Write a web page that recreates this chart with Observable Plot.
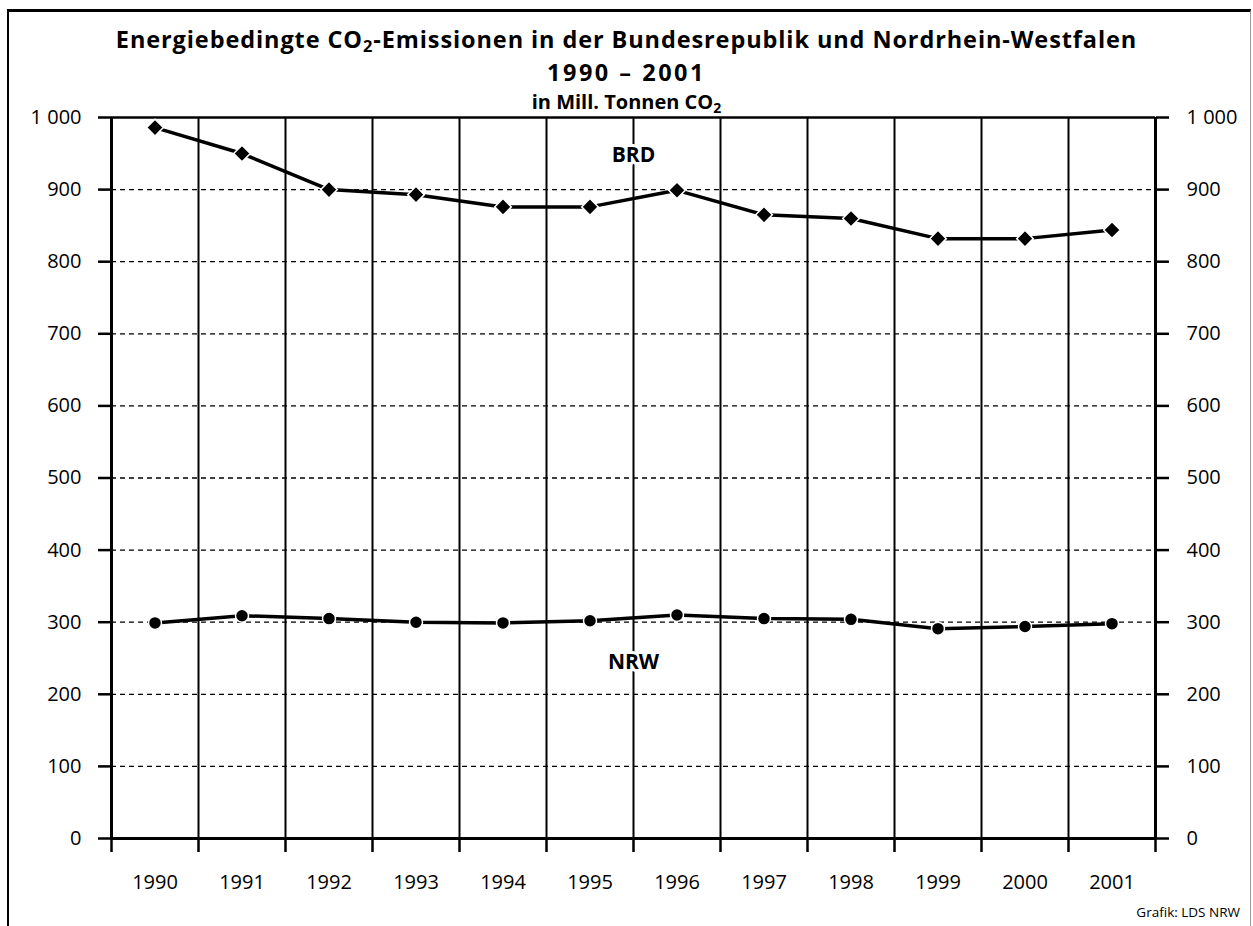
<!DOCTYPE html>
<html>
<head>
<meta charset="utf-8">
<script src="https://cdn.jsdelivr.net/npm/d3@7"></script>
<script src="https://cdn.jsdelivr.net/npm/@observablehq/plot@0.6"></script>
<style>
  html, body { margin: 0; padding: 0; background: #fff; }
  #wrap { position: relative; width: 1253px; height: 926px; overflow: hidden; font-family: "Open Sans", sans-serif; color: #000; }
  #frame { position: absolute; left: 7px; top: 9px; width: 1244px; height: 930px; border-left: 2px solid #000; border-top: 3px solid #000; border-right: 1px solid #999; box-sizing: border-box; }
  .t { position: absolute; left: 0; width: 1253px; text-align: center; font-weight: 700; white-space: nowrap; }
  #title1 { top: 24px; font-size: 23.5px; line-height: 31px; letter-spacing: 0.9px; }
  #title2 { top: 57px; font-size: 23.5px; line-height: 31px; letter-spacing: 2.5px; }
  #sub { top: 88px; font-size: 20px; line-height: 28px; }
  #cap { position: absolute; right: 13px; top: 903px; font-size: 13.5px; line-height: 18px; }
  #chart { position: absolute; left: 0; top: 105px; }
  sub { font-size: 0.7em; vertical-align: -0.25em; line-height: 0; }
</style>
</head>
<body>
<div id="wrap">
  <div id="frame"></div>
  <div class="t" id="title1">Energiebedingte CO<sub>2</sub>-Emissionen in der Bundesrepublik und Nordrhein-Westfalen</div>
  <div class="t" id="title2">1990 – 2001</div>
  <div class="t" id="sub">in Mill. Tonnen CO<sub>2</sub></div>
  <div id="cap">Grafik: LDS NRW</div>
  <div id="chart"></div>
</div>
<script>
const years = [1990, 1991, 1992, 1993, 1994, 1995, 1996, 1997, 1998, 1999, 2000, 2001];
const brdValues = [986, 950, 900, 893, 876, 876, 899, 865, 860, 832, 832, 844];
const nrwValues = [299, 309, 305, 300, 299, 302, 310, 305, 304, 291, 294, 298];
const yTicks = [0, 100, 200, 300, 400, 500, 600, 700, 800, 900, 1000];
const gridValues = [100, 200, 300, 400, 500, 600, 700, 800, 900];
const seriesLabels = [
  {name: "BRD", year: 1995.5, value: 947},
  {name: "NRW", year: 1995.5, value: 244}
];

const brd = years.map((year, i) => ({year, value: brdValues[i]}));
const nrw = years.map((year, i) => ({year, value: nrwValues[i]}));
const bounds = d3.range(years[0] - 0.5, years[years.length - 1] + 1, 1);
const innerBounds = bounds.slice(1, -1);
const outerBounds = [bounds[0], bounds[bounds.length - 1]];
const fmt = d => d >= 1000 ? d3.format(",")(d).replace(",", " ") : String(d);

const chart = Plot.plot({
  width: 1253,
  height: 800,
  marginTop: 12,
  marginBottom: 67,
  marginLeft: 111,
  marginRight: 98,
  style: {fontFamily: "'Open Sans', sans-serif", fontSize: "20px", color: "#000", background: "transparent", overflow: "visible"},
  x: {type: "linear", domain: [bounds[0], bounds[bounds.length - 1]], label: null},
  y: {domain: [0, 1000], label: null},
  marks: [
    Plot.ruleY(gridValues, {stroke: "#000", strokeWidth: 1.3, strokeDasharray: "5,4"}),
    Plot.ruleX(innerBounds, {y1: 0, y2: 1000, stroke: "#000", strokeWidth: 2}),
    Plot.ruleY([1000], {stroke: "#000", strokeWidth: 2.5}),
    Plot.ruleY([0], {stroke: "#000", strokeWidth: 3}),
    Plot.ruleX(outerBounds, {y1: 0, y2: 1000, stroke: "#000", strokeWidth: 3}),
    Plot.axisY(yTicks, {anchor: "left", tickSize: 13, tickPadding: 17, tickFormat: fmt, strokeWidth: 2.5, fontSize: 20}),
    Plot.axisY(yTicks, {anchor: "right", tickSize: 13, tickPadding: 18, tickFormat: fmt, strokeWidth: 2.5, fontSize: 20}),
    Plot.axisX(bounds, {anchor: "bottom", tickSize: 14, tickFormat: () => "", strokeWidth: 2.5}),
    Plot.axisX(years, {anchor: "bottom", tickSize: 0, tickPadding: 36, tickFormat: d => String(d), fontSize: 20}),
    Plot.line(brd, {x: "year", y: "value", stroke: "#000", strokeWidth: 3.5}),
    Plot.line(nrw, {x: "year", y: "value", stroke: "#000", strokeWidth: 3.5}),
    Plot.dot(brd, {x: "year", y: "value", symbol: "diamond2", r: 7.5, fill: "#000", stroke: "#fff", strokeWidth: 1.5}),
    Plot.dot(nrw, {x: "year", y: "value", symbol: "circle", r: 6.5, fill: "#000", stroke: "#fff", strokeWidth: 1.5}),
    Plot.text(seriesLabels, {x: "year", y: "value", text: "name", fontWeight: 700, fontSize: 21, fill: "#000", stroke: "#fff", strokeWidth: 6})
  ]
});
document.getElementById("chart").appendChild(chart);
</script>
</body>
</html>
